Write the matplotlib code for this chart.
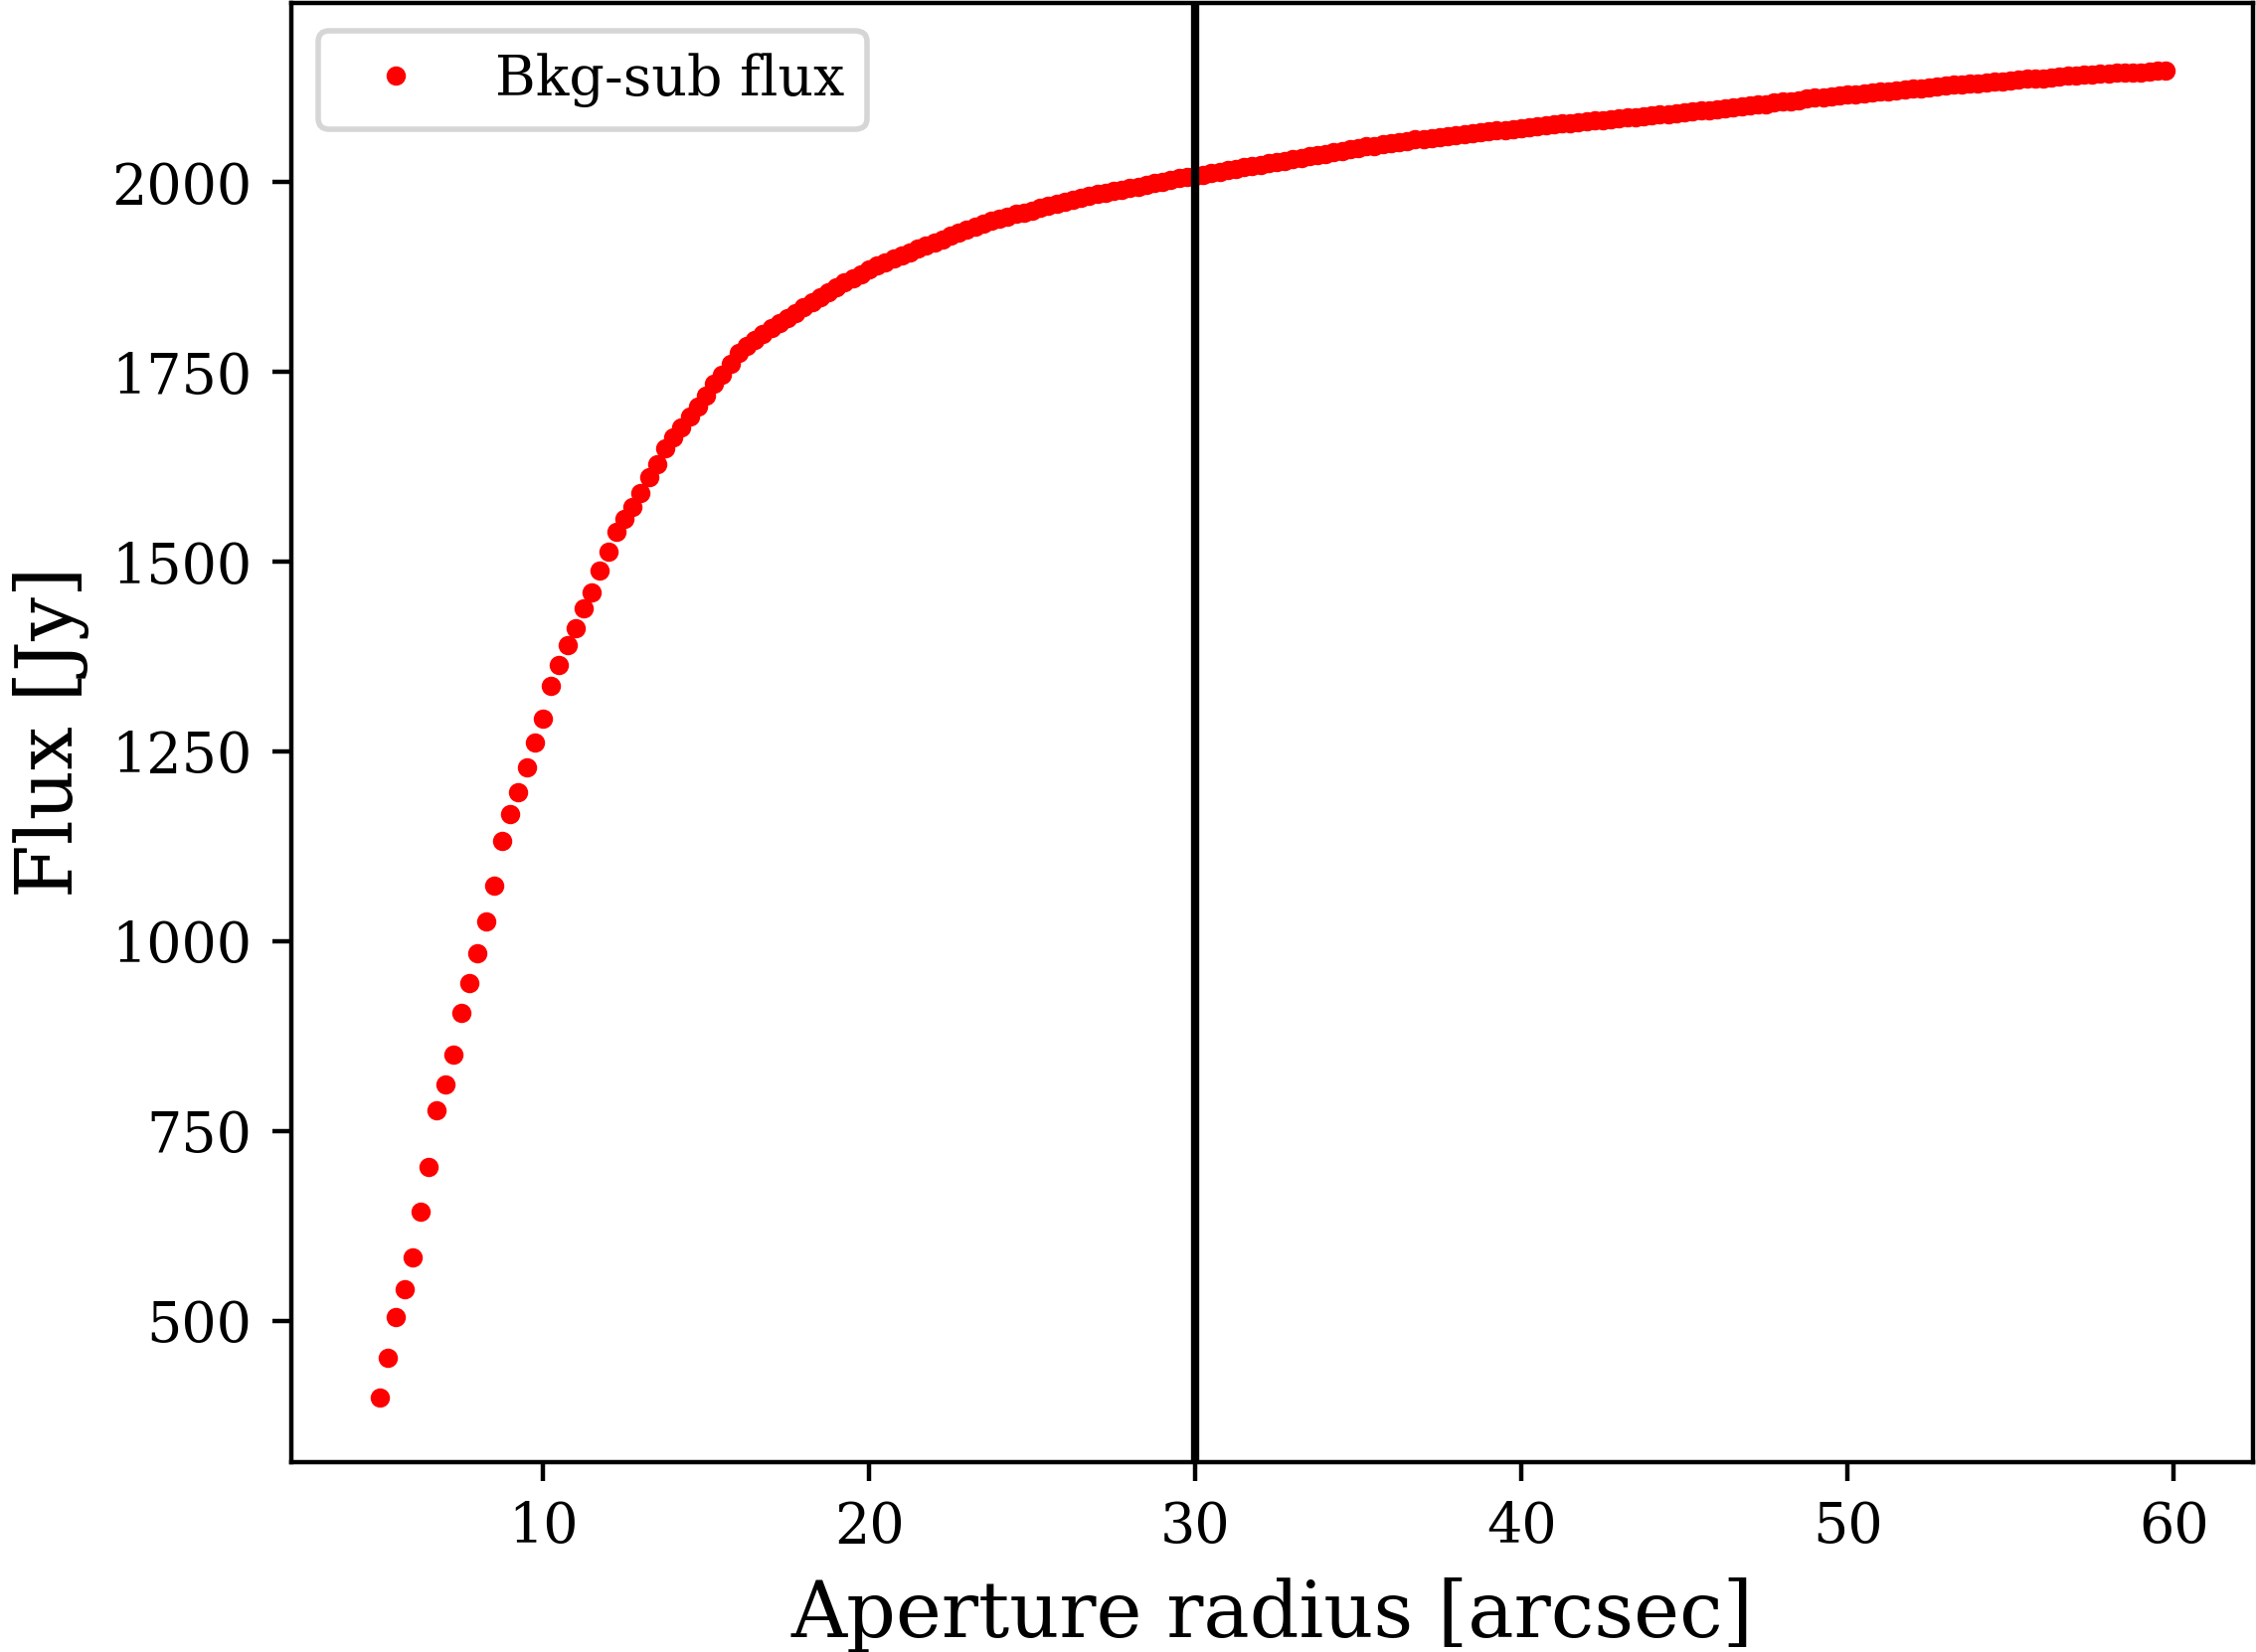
import numpy as np
import matplotlib
matplotlib.use("Agg")
import matplotlib.pyplot as plt

# Aperture radius grid (arcsec): 0.25" steps from 5.0" to 59.75"
radius_start = 5.0
radius_step = 0.25

# Background-subtracted flux [Jy]
flux = [
    399, 451, 505, 542, 584, 644, 703, 778, 812, 851,
    906, 945, 984, 1026, 1073, 1133, 1168, 1197, 1229, 1262,
    1294, 1336, 1364, 1390, 1413, 1439, 1460, 1489, 1513, 1539,
    1557, 1572, 1590, 1612, 1629, 1649, 1664, 1677, 1692, 1705,
    1719, 1734, 1747, 1761, 1775,
    1784, 1792, 1800, 1808,
    1815, 1821, 1828, 1835,
    1842, 1848, 1855, 1862,
    1868, 1874, 1879, 1885,
    1890, 1894, 1899, 1903,
    1908, 1912, 1917, 1921,
    1925, 1930, 1934, 1938,
    1942, 1945, 1949, 1952,
    1955, 1958, 1960, 1963,
    1966, 1969, 1971, 1974,
    1977, 1979, 1982, 1984,
    1986, 1988, 1990, 1992,
    1994, 1997, 1999, 2001,
    2003, 2005, 2007, 2008,
    2010, 2012, 2014, 2016,
    2018, 2020, 2021, 2023,
    2025, 2027, 2028, 2030,
    2032, 2034, 2036, 2037,
    2039, 2041, 2043, 2045,
    2047, 2048, 2050, 2052,
    2053, 2054, 2056, 2057,
    2058, 2059, 2061, 2062,
    2063, 2064, 2066, 2067,
    2068, 2069, 2070, 2071,
    2073, 2074, 2075, 2076,
    2077, 2078, 2079, 2080,
    2081, 2082, 2083, 2084,
    2085, 2086, 2087, 2088,
    2089, 2090, 2091, 2092,
    2093, 2094, 2095, 2096,
    2097, 2098, 2100, 2101,
    2102, 2103, 2105, 2106,
    2107, 2108, 2110, 2111,
    2112, 2113, 2114, 2115,
    2116, 2117, 2118, 2119,
    2120, 2121, 2122, 2123,
    2124, 2125, 2126, 2127,
    2128, 2129, 2130, 2130,
    2131, 2132, 2133, 2134,
    2135, 2136, 2137, 2137,
    2138, 2139, 2140, 2141,
    2142, 2142, 2143, 2143,
    2144, 2144, 2145, 2145,
    2146, 2147, 2147,
]
radius = radius_start + radius_step * np.arange(len(flux))

chosen_radius = 30
series_label = "Bkg-sub flux"
xlabel = "Aperture radius [arcsec]"
ylabel = "Flux [Jy]"
yticks = [500, 750, 1000, 1250, 1500, 1750, 2000]
xticks = [10, 20, 30, 40, 50, 60]

plt.rcParams["font.family"] = ["DejaVu Serif"]
plt.rcParams["font.size"] = 10

W, H, DPI = 2269, 1662, 400
fig = plt.figure(figsize=(W / DPI, H / DPI), dpi=DPI)
ax = fig.add_axes([292.5 / W, 1 - 1470.7 / H, (2265.5 - 292.5) / W, (1470.7 - 3) / H])

ax.plot(radius, flux, ".", color="red", markersize=5, label=series_label)
ax.axvline(chosen_radius, color="black", linewidth=1.5)

ax.set_xlim(2.27, 62.42)
ax.set_ylim(314.5, 2236)
ax.set_xticks(xticks)
ax.set_yticks(yticks)
ax.tick_params(labelsize=10)
ax.set_xlabel(xlabel, fontsize=14)
ax.set_ylabel(ylabel, fontsize=14)

ax.legend(loc="upper left", fontsize=10)

fig.savefig("out.png", dpi=DPI)
